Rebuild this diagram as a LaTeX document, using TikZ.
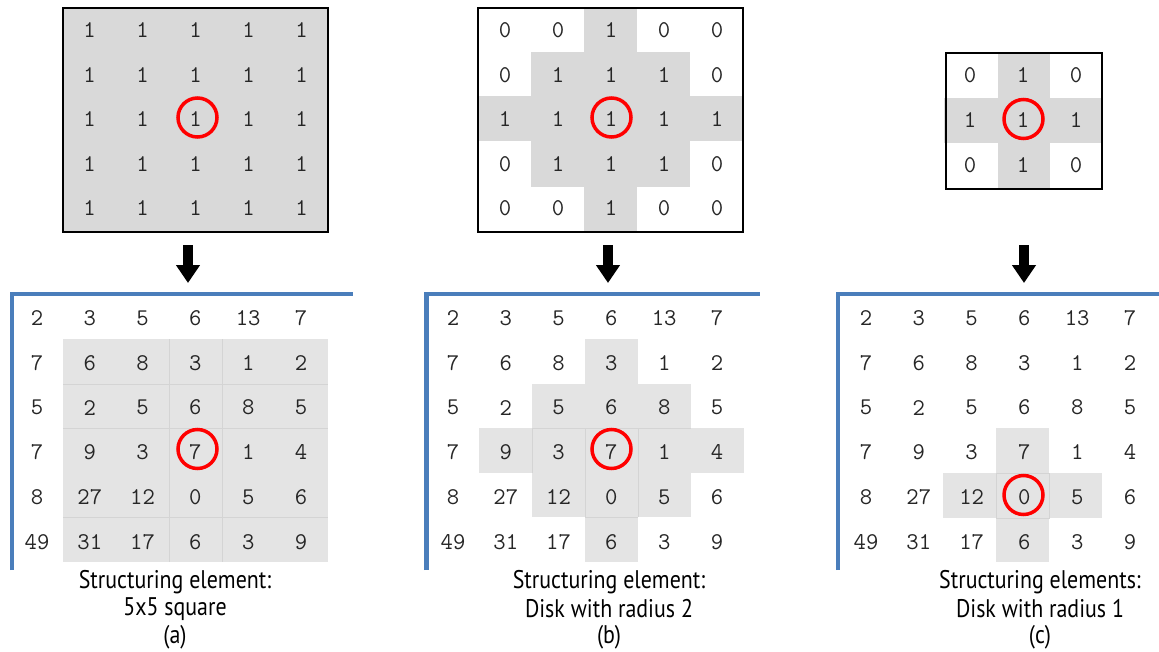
\documentclass[tikz,border=0pt]{standalone}
\usepackage{fontspec}
\setmainfont{Liberation Sans}
\newfontfamily\capfont[FakeStretch=0.86]{PT Sans}
\usetikzlibrary{arrows.meta}
\definecolor{topgray}{HTML}{D9D9D9}
\definecolor{botgray}{HTML}{E4E4E4}
\definecolor{gridln}{HTML}{D4D4D4}
\definecolor{axisblue}{HTML}{4A7EBB}
\definecolor{digit}{HTML}{262626}
\begin{document}
\begin{tikzpicture}[x=1pt,y=-1pt,
  num/.style={font=\ttfamily\fontsize{24}{28}\selectfont, text=digit, inner sep=0pt},
  captext/.style={font=\capfont\fontsize{25.5}{30}\selectfont, text=black, inner sep=0pt},
  redring/.style={draw=red, line width=3.5pt, circle, minimum size=39pt, inner sep=0pt},
  elbox/.style={draw=black, line width=1.8pt},
  axisline/.style={draw=axisblue, line width=4.6pt, line join=miter},
  faint/.style={draw=gridln, line width=1pt},
  downarrow/.style={draw=black, line width=10pt, -{Triangle[width=23pt,length=18pt]}}
]
\useasboundingbox (0,0) rectangle (1159,651);

% ---------- top (a): 5x5 square ----------
\fill[topgray] (63,8) rectangle (328,232);
\draw[elbox] (63,8) rectangle (328,232);
\foreach \r in {0,...,4} \foreach \c in {0,...,4}
  \node[num] (aT-\r-\c) at (89.5+53*\c, 30.5+44.5*\r) {1};
\node[redring] (ringAT) at (197.5,117.5) {};

% ---------- top (b): disk radius 2 ----------
\fill[topgray] (584,8) rectangle (637,232);
\fill[topgray] (531,52) rectangle (690,187);
\fill[topgray] (478,96) rectangle (743,141);
\draw[elbox] (478,8) rectangle (743,232);
\foreach \row [count=\r from 0] in {{0,0,1,0,0},{0,1,1,1,0},{1,1,1,1,1},{0,1,1,1,0},{0,0,1,0,0}}
  \foreach \v [count=\c from 0] in \row
    \node[num] (bT-\r-\c) at (505+53*\c, 30.5+44.5*\r) {\v};
\node[redring] (ringBT) at (611.5,117.5) {};

% ---------- top (c): disk radius 1 ----------
\fill[topgray] (998,53) rectangle (1050,189);
\fill[topgray] (944,98) rectangle (1102,143);
\draw[elbox] (946,53) rectangle (1102,189);
\foreach \row [count=\r from 0] in {{0,1,0},{1,1,1},{0,1,0}}
  \foreach \v [count=\c from 0] in \row
    \node[num] (cT-\r-\c) at (970+53*\c, 75+45*\r) {\v};
\node[redring] (ringCT) at (1023.5,119) {};

% ---------- arrows ----------
\coordinate (arrA-s) at (188,245); \coordinate (arrA-e) at (188,283);
\coordinate (arrB-s) at (608,245); \coordinate (arrB-e) at (608,283);
\coordinate (arrC-s) at (1024,245); \coordinate (arrC-e) at (1024,283);
\draw[downarrow] (arrA-s) -- (arrA-e);
\draw[downarrow] (arrB-s) -- (arrB-e);
\draw[downarrow] (arrC-s) -- (arrC-e);

% ---------- bottom gray regions ----------
% (a)
\fill[botgray] (63,339) rectangle (328,562);
\draw[faint] (169,339) -- (169,562);
\draw[faint] (222,339) -- (222,562);
\draw[faint] (63,384) -- (328,384);
\draw[faint] (63,428) -- (328,428);
\draw[faint] (63,517) -- (328,517);
% (b)
\fill[botgray] (585,339) rectangle (638,562);
\fill[botgray] (532,384) rectangle (691,517);
\fill[botgray] (479,428) rectangle (744,473);
\draw[faint] (532,428) -- (691,428);
\draw[faint] (585,428) -- (585,517);
\draw[faint] (638,428) -- (638,517);
\draw[faint] (585,517) -- (638,517);
\draw[faint] (532,428) -- (532,473);
% (c)
\fill[botgray] (996,428) rectangle (1049,562);
\fill[botgray] (943,473) rectangle (1102,518);
\draw[faint] (996,473) rectangle (1049,518);

% ---------- bottom numbers ----------
\foreach \panel/\xo in {a/37, b/453, c/866}{
  \foreach \row [count=\r from 0] in {{2,3,5,6,13,7},{7,6,8,3,1,2},{5,2,5,6,8,5},{7,9,3,7,1,4},{8,27,12,0,5,6},{49,31,17,6,3,9}}
    \foreach \v [count=\c from 0] in \row
      \node[num] (\panel B-\r-\c) at (\xo+52.8*\c, 318+44.8*\r) {\v};
}
\node[redring] (ringAB) at (197.5,449) {};
\node[redring] (ringBB) at (611.5,449) {};
\node[redring] (ringCB) at (1023.5,495) {};

% ---------- blue axes ----------
\draw[axisline] (12,570) -- (12,294) -- (353,294);
\draw[axisline] (426.5,570) -- (426.5,294) -- (760,294);
\draw[axisline] (838,570) -- (838,294) -- (1159,294);

% ---------- captions ----------
\node[captext] (capA1) at (175,582) {Structuring element:};
\node[captext] (capA2) at (175,609) {5x5 square};
\node[captext] (capA3) at (175,637) {(a)};
\node[captext] (capB1) at (609,582) {Structuring element:};
\node[captext] (capB2) at (609,609) {Disk with radius 2};
\node[captext] (capB3) at (609,637) {(b)};
\node[captext] (capC1) at (1040,582) {Structuring elements:};
\node[captext] (capC2) at (1040,609) {Disk with radius 1};
\node[captext] (capC3) at (1040,637) {(c)};
\end{tikzpicture}
\end{document}
